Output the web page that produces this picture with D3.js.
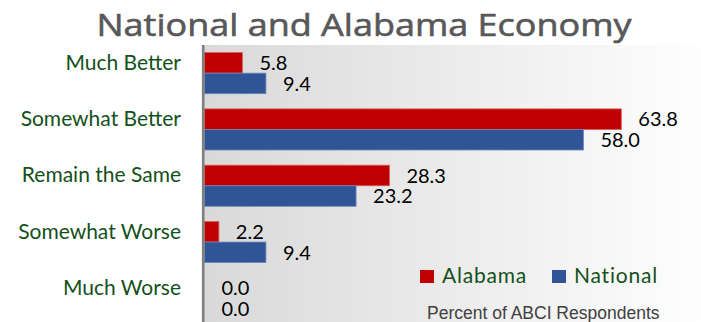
<!DOCTYPE html>
<html>
<head>
<meta charset="utf-8">
<script src="https://cdn.jsdelivr.net/npm/d3@7"></script>
<style>
body{margin:0;background:#fff;}
svg{display:block;}
</style>
</head>
<body>
<div id="chart"></div>
<script>
// data
const categories = ["Much Better","Somewhat Better","Remain the Same","Somewhat Worse","Much Worse"];
const seriesNames = ["Alabama","National"];
const alabama = [5.8, 63.8, 28.3, 2.2, 0.0];
const national = [9.4, 58.0, 23.2, 9.4, 0.0];
const colors = ["#c00000","#2f5597"];

const W = 701, H = 322;
const svg = d3.select("#chart").append("svg")
  .attr("width", W).attr("height", H);

const defs = svg.append("defs");
const grad = defs.append("linearGradient").attr("id","bg")
  .attr("x1","0%").attr("x2","100%").attr("y1","0%").attr("y2","0%");
grad.append("stop").attr("offset","0%").attr("stop-color","#d9d9d9");
grad.append("stop").attr("offset","100%").attr("stop-color","#fefefe");

const x = d3.scaleLinear().domain([0, 76]).range([204.5, 701]);
const y = d3.scaleBand().domain(categories).range([45, 326.5])
  .paddingInner(0.27).paddingOuter(0.135);
const ySub = d3.scaleBand().domain(seriesNames).range([0, y.bandwidth()]);

// plot area
svg.append("rect")
  .attr("x", x(0) - 2).attr("y", 45)
  .attr("width", W - x(0) + 2).attr("height", H - 45)
  .attr("fill", "url(#bg)");

// title
svg.append("text")
  .attr("x", 364).attr("y", 36)
  .attr("text-anchor","middle")
  .attr("font-family","Open Sans")
  .attr("font-size", 31)
  .attr("fill","#58585a")
  .attr("stroke","#58585a")
  .attr("stroke-width", 0.6)
  .attr("textLength", 535)
  .attr("lengthAdjust","spacingAndGlyphs")
  .text("National and Alabama Economy");

const rows = categories.map((c, i) => ({cat: c, vals: [alabama[i], national[i]]}));

const g = svg.selectAll("g.cat").data(rows).enter().append("g")
  .attr("class","cat")
  .attr("transform", d => `translate(0,${y(d.cat)})`);

g.selectAll("rect").data(d => d.vals.map((v, j) => ({v: v, s: seriesNames[j], j: j})))
  .enter().append("rect")
  .attr("x", x(0))
  .attr("y", d => ySub(d.s))
  .attr("width", d => x(d.v) - x(0))
  .attr("height", ySub.bandwidth())
  .attr("fill", d => colors[d.j])
  .attr("stroke", d => d.j === 0 ? "#d65a5a" : "#6f86b8")
  .attr("stroke-width", d => d.v > 0 ? 0.8 : 0);

g.selectAll("text.val").data(d => d.vals.map((v, j) => ({v: v, s: seriesNames[j]})))
  .enter().append("text")
  .attr("class","val")
  .attr("x", d => x(d.v) + 17)
  .attr("y", d => ySub(d.s) + ySub.bandwidth() / 2)
  .attr("dy","0.36em")
  .attr("font-family","Lato")
  .attr("font-size", 20)
  .attr("fill","#000")
  .text(d => d3.format(".1f")(d.v));

// category labels
const yAxis = d3.axisLeft(y).tickSize(0).tickPadding(0);
const ax = svg.append("g")
  .attr("transform", `translate(181,${-10})`)
  .call(yAxis);
ax.select(".domain").remove();
ax.selectAll("text")
  .attr("font-family","Lato")
  .attr("font-size", 21)
  .attr("fill","#14501a");

// axis line
svg.append("line")
  .attr("x1", x(0) - 1.3).attr("x2", x(0) - 1.3)
  .attr("y1", 45).attr("y2", H)
  .attr("stroke","#7f7f7f").attr("stroke-width", 2.6);

// legend
const leg = svg.append("g");
const legX = [420, 552];
seriesNames.forEach((s, j) => {
  leg.append("rect").attr("x", legX[j]).attr("y", 270)
    .attr("width", 14).attr("height", 13).attr("fill", colors[j]);
  leg.append("text").attr("x", legX[j] + 22).attr("y", 283)
    .attr("font-family","Lato").attr("font-size", 21)
    .attr("letter-spacing", 0.8)
    .attr("fill","#14501a").text(s);
});

svg.append("text")
  .attr("x", 427).attr("y", 319)
  .attr("font-family","Liberation Sans")
  .attr("font-size", 17.5)
  .attr("fill","#404040")
  .text("Percent of ABCI Respondents");
</script>
</body>
</html>
